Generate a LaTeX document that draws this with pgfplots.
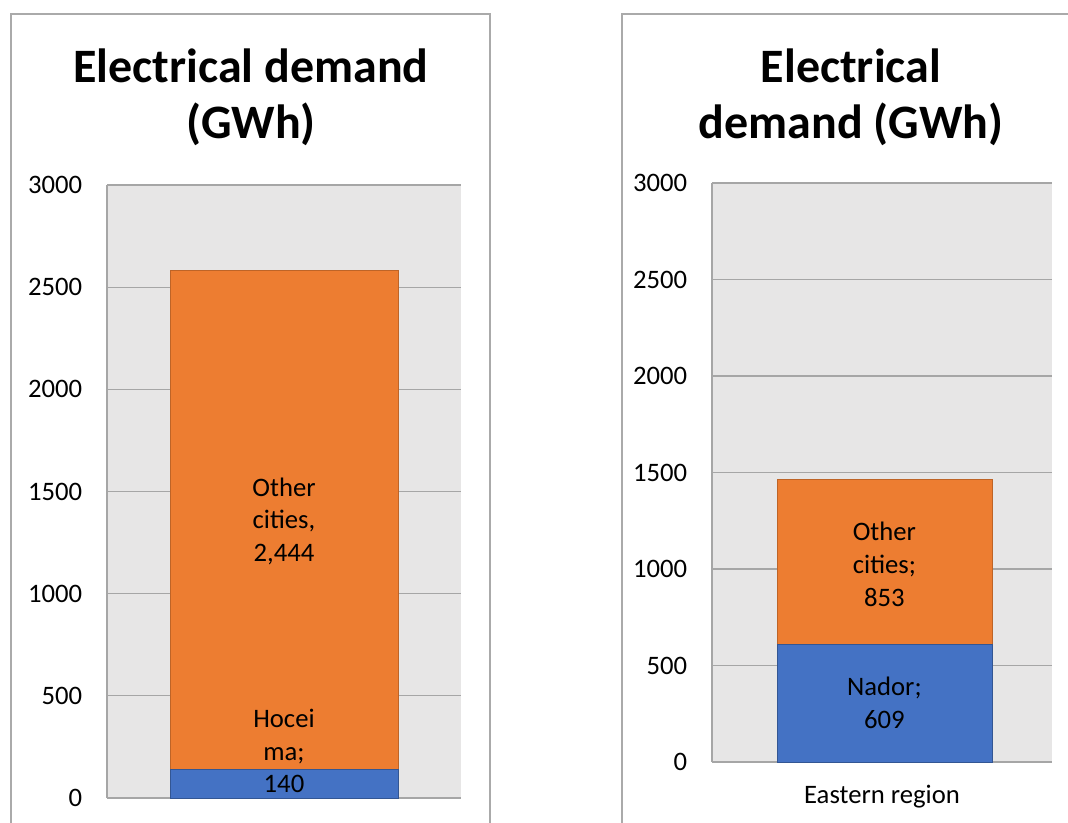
\documentclass[border=0pt]{standalone}
\usepackage{pgfplots}
\pgfplotsset{compat=1.18}
\usepackage{fontspec}
\setmainfont{Carlito}

\definecolor{barorange}{RGB}{237,125,49}
\definecolor{barblue}{RGB}{68,114,196}
\definecolor{plotbg}{RGB}{231,230,230}
\definecolor{gridgray}{RGB}{166,166,166}
\definecolor{framegray}{RGB}{170,170,170}

\pgfplotsset{
  panel/.style={
    scale only axis,
    ybar stacked,
    xmin=-1, xmax=1,
    ymin=0, ymax=3000,
    ytick={0,500,...,3000},
    axis background/.style={fill=plotbg},
    axis x line*=bottom,
    axis y line*=left,
    y axis line style={draw=gridgray, line width=0.9pt},
    x axis line style={draw=gridgray, line width=0.9pt},
    ymajorgrids,
    major grid style={draw=gridgray, line width=0.9pt},
    major tick length=0pt,
    tick label style={font=\fontsize{20}{24}\selectfont},
    yticklabel style={inner sep=0pt, anchor=east, xshift=-18.5pt},
    /pgf/number format/assume math mode=true,
    /pgf/number format/1000 sep={},
    clip=false,
  },
}
\tikzset{lbl/.style={font=\fontsize{20}{24.5}\selectfont, align=center, inner sep=0pt}}

\begin{document}
\begin{tikzpicture}[x=1pt,y=1pt]
\useasboundingbox (0,0) rectangle (801,617.25);
% panel frames
\draw[framegray, line width=0.9pt] (8.25,0) -- (8.25,606.75) -- (367.5,606.75) -- (367.5,0);
\draw[framegray, line width=0.9pt] (466.5,0) -- (466.5,606.75) -- (801,606.75);

% titles
\tikzset{ttl/.style={font=\fontsize{36}{36}\selectfont\bfseries, anchor=base}}
\node[ttl] at (188.25,555) {Electrical demand};
\node[ttl] at (188.25,513) {(GWh)};
\node[ttl] at (638.25,555) {Electrical};
\node[ttl] at (638.25,513) {demand (GWh)};

% left panel
\begin{axis}[panel, at={(80.25pt,18.75pt)}, anchor=south west,
  width=265.5pt, height=459.75pt, bar width=171pt, xtick=\empty]
  \addplot[fill=barblue, draw=barblue!75!black, line width=0.6pt] coordinates {(0,140)};
  \addplot[fill=barorange, draw=barorange!80!black, line width=0.6pt] coordinates {(0,2444)};
  \coordinate (lo) at (axis cs:0,1354);
  \coordinate (lb) at (axis cs:0,230);
\end{axis}

% right panel
\begin{axis}[panel, at={(534pt,45.75pt)}, anchor=south west,
  width=255pt, height=434.25pt, bar width=161.25pt, bar shift=1.8pt,
  xtick={0}, xticklabels={Eastern region},
  xticklabel style={anchor=base, yshift=-31.5pt}]
  \addplot[fill=barblue, draw=barblue!75!black, line width=0.6pt] coordinates {(0,609)};
  \addplot[fill=barorange, draw=barorange!80!black, line width=0.6pt] coordinates {(0,853)};
  \coordinate (ro) at (axis cs:0,1024);
  \coordinate (rb) at (axis cs:0,305);
\end{axis}

% data labels
\node[lbl] at (lo) {Other\\cities,\\2,444};
\node[lbl] at (lb) {Hocei\\ma;\\140};
\node[lbl] at ([xshift=1.8pt]ro) {Other\\cities;\\853};
\node[lbl] at ([xshift=1.8pt]rb) {Nador;\\609};
\end{tikzpicture}
\end{document}
